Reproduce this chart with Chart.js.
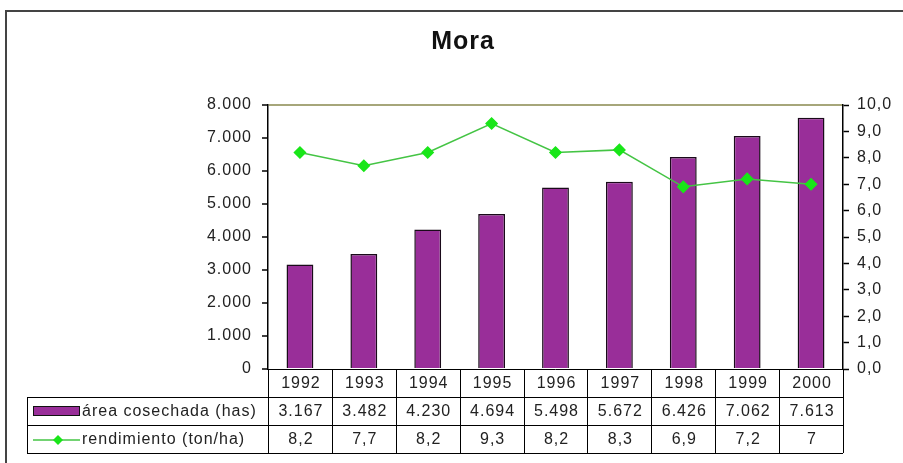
<!DOCTYPE html>
<html>
<head>
<meta charset="utf-8">
<script src="https://cdn.jsdelivr.net/npm/chart.js@4"></script>
<style>
  html, body { margin: 0; padding: 0; background: #fff; }
  #wrap { width: 903px; height: 463px; }
</style>
</head>
<body>
<div id="wrap"><canvas id="moraChart"></canvas></div>
<script>
// datos
const anios = ['1992', '1993', '1994', '1995', '1996', '1997', '1998', '1999', '2000'];
const areaCosechada = [3167, 3482, 4230, 4694, 5498, 5672, 6426, 7062, 7613];
const rendimiento = [8.2, 7.7, 8.2, 9.3, 8.2, 8.3, 6.9, 7.2, 7];
const ticksArea = [0, 1000, 2000, 3000, 4000, 5000, 6000, 7000, 8000];
const ticksRend = [0, 1, 2, 3, 4, 5, 6, 7, 8, 9, 10];

const fuente = 'Arial, "Liberation Sans", sans-serif';
const fmtMiles = new Intl.NumberFormat('de-DE');
const colorBarra = '#992e99';
const colorLinea = '#44c444';
const colorPunto = '#19e619';

// marco exterior del grafico
const marco = {
    id: 'marco',
    beforeDraw(chart) {
        const ctx = chart.ctx;
        ctx.save();
        ctx.fillStyle = '#fff';
        ctx.fillRect(0, 0, chart.width, chart.height);
        ctx.strokeStyle = '#444';
        ctx.lineWidth = 2;
        ctx.strokeRect(6, 11, chart.width + 20, chart.height + 20);
        ctx.restore();
        // el texto original se ve algo mas espaciado
        if ('letterSpacing' in ctx) ctx.letterSpacing = '1px';
    }
};

// tabla de datos debajo del eje X
const tablaDatos = {
    id: 'tablaDatos',
    afterDraw(chart) {
        const ctx = chart.ctx;
        const area = chart.chartArea;
        const n = anios.length;
        const ancho = (area.right - area.left) / n;
        const filas = [area.bottom, area.bottom + 28, area.bottom + 56, area.bottom + 84];
        const izq = 27;

        ctx.save();
        ctx.strokeStyle = '#000';
        ctx.lineWidth = 1;
        ctx.beginPath();
        ctx.moveTo(area.left, filas[0] + 0.5); ctx.lineTo(area.right, filas[0] + 0.5);
        for (let r = 1; r < 4; r++) {
            ctx.moveTo(izq, filas[r] + 0.5); ctx.lineTo(area.right, filas[r] + 0.5);
        }
        ctx.moveTo(izq + 0.5, filas[1]); ctx.lineTo(izq + 0.5, filas[3]);
        for (let i = 0; i <= n; i++) {
            const x = Math.round(area.left + i * ancho) + 0.5;
            ctx.moveTo(x, filas[0]); ctx.lineTo(x, filas[3]);
        }
        ctx.stroke();

        ctx.fillStyle = '#222';
        ctx.font = '16px ' + fuente;
        ctx.textAlign = 'center';
        ctx.textBaseline = 'middle';
        for (let i = 0; i < n; i++) {
            const cx = chart.scales.x.getPixelForValue(i) + 1;
            ctx.fillText(anios[i], cx, (filas[0] + filas[1]) / 2 + 1);
            ctx.fillText(fmtMiles.format(areaCosechada[i]), cx, (filas[1] + filas[2]) / 2 + 1);
            ctx.fillText(fmtMiles.format(rendimiento[i]), cx, (filas[2] + filas[3]) / 2 + 1);
        }

        // leyenda dentro de la tabla
        const yBar = (filas[1] + filas[2]) / 2;
        const yLin = (filas[2] + filas[3]) / 2;
        ctx.fillStyle = colorBarra;
        ctx.fillRect(33, yBar - 5, 47, 10);
        ctx.strokeStyle = '#111';
        ctx.strokeRect(33.5, yBar - 4.5, 46, 9);

        ctx.strokeStyle = colorLinea;
        ctx.lineWidth = 1.5;
        ctx.beginPath();
        ctx.moveTo(33, yLin + 1); ctx.lineTo(80, yLin + 1);
        ctx.stroke();
        ctx.fillStyle = colorPunto;
        ctx.beginPath();
        ctx.moveTo(58, yLin - 4); ctx.lineTo(63, yLin + 1); ctx.lineTo(58, yLin + 6); ctx.lineTo(53, yLin + 1);
        ctx.closePath();
        ctx.fill();

        ctx.fillStyle = '#222';
        ctx.textAlign = 'left';
        ctx.fillText(chart.data.datasets[0].label, 82, yBar + 1);
        ctx.fillText(chart.data.datasets[1].label, 82, yLin + 1);
        ctx.restore();
    }
};

document.addEventListener('DOMContentLoaded', () => {
    Chart.defaults.font.family = fuente;
    Chart.defaults.font.size = 16;
    Chart.defaults.color = '#222';

    const ctx = document.getElementById('moraChart').getContext('2d');
    new Chart(ctx, {
        type: 'bar',
        data: {
            labels: anios,
            datasets: [{
                label: 'área cosechada (has)',
                data: areaCosechada,
                backgroundColor: colorBarra,
                borderColor: '#1a0a1a',
                borderWidth: 1.5,
                barPercentage: 0.42,
                categoryPercentage: 1,
                yAxisID: 'y',
                order: 2
            }, {
                type: 'line',
                label: 'rendimiento (ton/ha)',
                data: rendimiento,
                borderColor: colorLinea,
                borderWidth: 1.5,
                pointStyle: 'rectRot',
                pointRadius: 5.5,
                pointBackgroundColor: colorPunto,
                pointBorderColor: colorPunto,
                tension: 0,
                yAxisID: 'y1',
                order: 1
            }]
        },
        options: {
            responsive: true,
            maintainAspectRatio: false,
            animation: false,
            // padding izquierdo para centrar el titulo como en el original
            layout: { padding: { left: 23, right: 0, top: 0, bottom: 0 } },
            plugins: {
                legend: { display: false },
                tooltip: { enabled: false },
                title: {
                    display: true,
                    text: 'Mora',
                    color: '#111',
                    font: { size: 25, weight: 'bold' },
                    padding: { top: 27, bottom: 48 }
                }
            },
            scales: {
                x: {
                    grid: { display: false },
                    border: { display: false },
                    ticks: { display: false },
                    afterFit: (s) => { s.height = 94; }
                },
                y: {
                    position: 'left',
                    min: 0,
                    max: 8000,
                    afterBuildTicks: (s) => { s.ticks = ticksArea.map(v => ({ value: v })); },
                    ticks: {
                        padding: 10,
                        callback: (v) => fmtMiles.format(v)
                    },
                    grid: {
                        color: (c) => (c.tick && c.tick.value === 8000) ? '#a6a67a' : 'rgba(0,0,0,0)',
                        lineWidth: 2,
                        tickColor: '#000',
                        tickLength: 6,
                        tickWidth: 1.5
                    },
                    border: { color: '#000', width: 1.5 },
                    afterFit: (s) => { s.width = 245; }
                },
                y1: {
                    position: 'right',
                    min: 0,
                    max: 10,
                    afterBuildTicks: (s) => { s.ticks = ticksRend.map(v => ({ value: v })); },
                    ticks: {
                        padding: 8,
                        callback: (v) => v.toFixed(1).replace('.', ',')
                    },
                    grid: {
                        drawOnChartArea: false,
                        tickColor: '#000',
                        tickLength: 6,
                        tickWidth: 1.5
                    },
                    border: { color: '#000', width: 1.5 },
                    afterFit: (s) => { s.width = 60; }
                }
            }
        },
        plugins: [marco, tablaDatos]
    });
});
</script>
</body>
</html>
